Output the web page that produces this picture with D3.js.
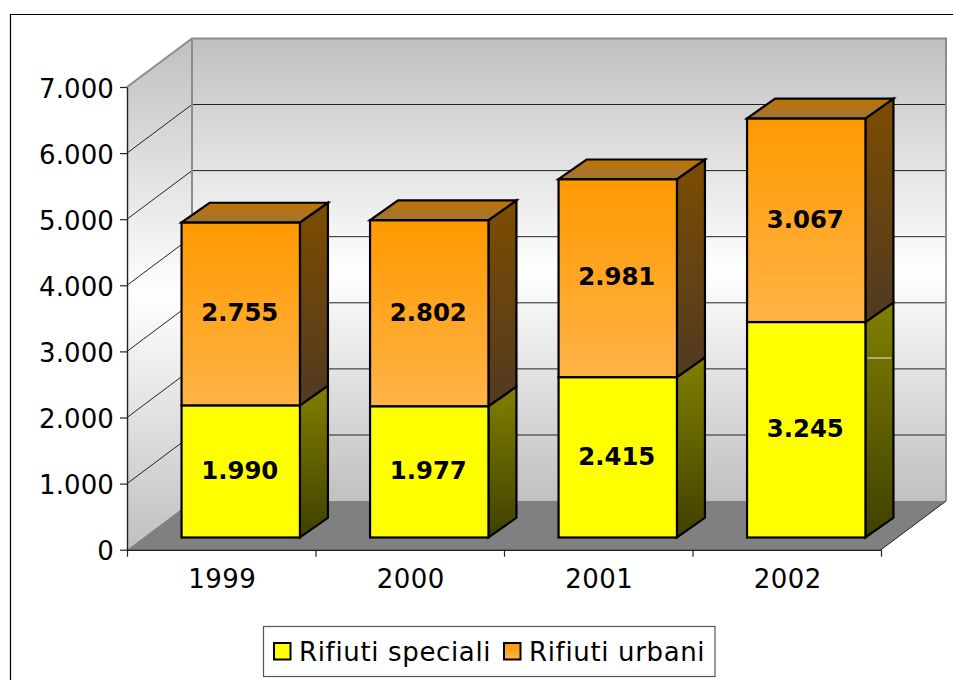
<!DOCTYPE html>
<html>
<head>
<meta charset="utf-8">
<script src="https://cdn.jsdelivr.net/npm/d3@7"></script>
<style>
  html, body { margin: 0; padding: 0; background: #fff; }
  svg { display: block; }
  text { font-family: "DejaVu Sans", Verdana, sans-serif; fill: #000; }
</style>
</head>
<body>
<div id="chart"></div>
<script>
var years = ["1999", "2000", "2001", "2002"];
var speciali = [1990, 1977, 2415, 3245];
var urbani = [2755, 2802, 2981, 3067];
var seriesNames = ["Rifiuti speciali", "Rifiuti urbani"];
var yTicks = [0, 1000, 2000, 3000, 4000, 5000, 6000, 7000];

var width = 953, height = 680;
var left = 127, right = 881, bottom = 549.7, top_ = 87;
var wallDx = 65, wallDy = 48.6;    // depth of the box
var barDx = 19.5, barDy = 12.2;    // bars sit a little way in from the front
var sideDx = 28, sideDy = 19.7;    // depth of the bars themselves

var table = years.map(function(y, i) {
    return { year: y, "Rifiuti speciali": speciali[i], "Rifiuti urbani": urbani[i] };
});
var stacked = d3.stack().keys(seriesNames)(table);

var x = d3.scaleBand().domain(years).range([left, right]).paddingInner(0.372).paddingOuter(0.186);
var y = d3.scaleLinear().domain([0, 7000]).range([bottom, top_]);
// bars are nearer than the axis plane, so they scale a touch larger
var yBar = d3.scaleLinear().domain([0, 7000]).range([bottom, top_ - 2.1]);
var edges = d3.scalePoint().domain(d3.range(years.length + 1)).range([left, right]);
var it = d3.formatLocale({ decimal: ",", thousands: ".", grouping: [3], currency: ["", ""] }).format(",d");

var svg = d3.select("#chart").append("svg").attr("width", width).attr("height", height);
var defs = svg.append("defs");

function gradient(id, stops) {
    var g = defs.append("linearGradient").attr("id", id).attr("x1", 0).attr("y1", 0).attr("x2", 0).attr("y2", 1);
    stops.forEach(function(s) {
        g.append("stop").attr("offset", s[0]).attr("stop-color", s[1]);
    });
}
gradient("wall", [[0, "#c0c0c0"], [0.5, "#ffffff"], [1, "#c0c0c0"]]);
gradient("orangeFront", [[0, "#ff9900"], [1, "#ffb347"]]);
gradient("orangeSide", [[0, "#7d4c00"], [1, "#503a22"]]);
gradient("orangeTop", [[0, "#bf7300"], [1, "#a0743a"]]);
gradient("yellowSide", [[0, "#808000"], [1, "#404000"]]);

var frontFill = { "Rifiuti speciali": "#ffff00", "Rifiuti urbani": "url(#orangeFront)" };
var sideFill = { "Rifiuti speciali": "url(#yellowSide)", "Rifiuti urbani": "url(#orangeSide)" };

function poly(pts) { return pts.map(function(p) { return p.join(","); }).join(" "); }

// outer frame, only top and left show in the crop
svg.append("path")
    .attr("d", d3.line()([[10.5, height], [10.5, 14.5], [width, 14.5]]))
    .attr("fill", "none").attr("stroke", "#000").attr("stroke-width", 1.2);

// walls and floor
svg.append("polygon")
    .attr("points", poly([[left + wallDx, top_ - wallDy], [right + wallDx, top_ - wallDy], [right + wallDx, bottom - wallDy], [left + wallDx, bottom - wallDy]]))
    .attr("fill", "url(#wall)");
svg.append("polygon")
    .attr("points", poly([[left, top_], [left + wallDx, top_ - wallDy], [left + wallDx, bottom - wallDy], [left, bottom]]))
    .attr("fill", "url(#wall)");

// grid lines on both walls
var gridTicks = yTicks.slice(1, -1);
svg.append("g").selectAll("path").data(gridTicks).enter().append("path")
    .attr("d", function(d) {
        return d3.line()([[left, y(d)], [left + wallDx, y(d) - wallDy], [right + wallDx, y(d) - wallDy]]);
    })
    .attr("fill", "none").attr("stroke", "#222").attr("stroke-width", 1);

svg.append("polygon")
    .attr("points", poly([[left, bottom], [left + wallDx, bottom - wallDy], [right + wallDx, bottom - wallDy], [right, bottom]]))
    .attr("fill", "#808080");
svg.append("path")
    .attr("d", d3.line()([[left, top_], [left + wallDx, top_ - wallDy], [right + wallDx, top_ - wallDy], [right + wallDx, bottom - wallDy]]))
    .attr("fill", "none").attr("stroke", "#8c8c8c").attr("stroke-width", 2);
svg.append("path")
    .attr("d", d3.line()([[left + wallDx, top_ - wallDy], [left + wallDx, bottom - wallDy]]))
    .attr("fill", "none").attr("stroke", "#8c8c8c").attr("stroke-width", 2);
svg.append("path")
    .attr("d", d3.line()([[right, bottom], [right + wallDx, bottom - wallDy]]))
    .attr("fill", "none").attr("stroke", "#222").attr("stroke-width", 1);

// axes
var yAxis = d3.axisLeft(y).tickValues(yTicks).tickFormat(it).tickSize(7).tickPadding(6).tickSizeOuter(0);
var gy = svg.append("g").attr("transform", "translate(" + left + ",0)").call(yAxis);
gy.selectAll("text").attr("dy", "0.39em").style("font-size", "26px").style("letter-spacing", "0.1px");

var xAxis = d3.axisBottom(x).tickSize(0).tickPadding(19.5);
var gx = svg.append("g").attr("transform", "translate(1," + bottom + ")").call(xAxis);
gx.select(".domain").remove();
gx.selectAll("text").style("font-size", "26px").style("letter-spacing", "0.4px");

var edgeAxis = d3.axisBottom(edges).tickSize(7).tickSizeOuter(0).tickFormat("");
svg.append("g").attr("transform", "translate(0," + bottom + ")").call(edgeAxis);
svg.selectAll(".domain").attr("stroke", "#222").attr("stroke-width", 1.4);
svg.selectAll(".tick line").attr("stroke", "#222").attr("stroke-width", 1.2);

// bars, one group per series
var groups = svg.append("g").attr("stroke", "#000").attr("stroke-width", 2.2).attr("stroke-linejoin", "miter")
    .selectAll("g").data(stacked).enter().append("g");

function fx(d) { return x(d.data.year) + barDx; }
function fy(v) { return yBar(v) - barDy; }

groups.selectAll(".side").data(function(s) { return s; }).enter().append("polygon")
    .attr("class", "side")
    .attr("fill", function(d, i, n) { return sideFill[d3.select(n[i].parentNode).datum().key]; })
    .attr("points", function(d) {
        var r = fx(d) + x.bandwidth();
        return poly([[r, fy(d[1])], [r + sideDx, fy(d[1]) - sideDy], [r + sideDx, fy(d[0]) - sideDy], [r, fy(d[0])]]);
    });

groups.selectAll(".front").data(function(s) { return s; }).enter().append("rect")
    .attr("class", "front")
    .attr("x", fx)
    .attr("y", function(d) { return fy(d[1]); })
    .attr("width", x.bandwidth())
    .attr("height", function(d) { return fy(d[0]) - fy(d[1]); })
    .attr("fill", function(d, i, n) { return frontFill[d3.select(n[i].parentNode).datum().key]; });

// lid on the top series only
groups.filter(function(s) { return s.key === "Rifiuti urbani"; })
    .selectAll(".lid").data(function(s) { return s; }).enter().append("polygon")
    .attr("class", "lid")
    .attr("fill", "url(#orangeTop)")
    .attr("points", function(d) {
        var l = fx(d), r = l + x.bandwidth(), t = fy(d[1]);
        return poly([[l, t], [l + sideDx, t - sideDy], [r + sideDx, t - sideDy], [r, t]]);
    });

// value labels
var labels = svg.append("g").attr("text-anchor", "middle");
stacked.forEach(function(s) {
    labels.selectAll(".v" + s.index).data(s).enter().append("text")
        .attr("x", function(d) { return fx(d) + x.bandwidth() / 2 - 1; })
        .attr("y", function(d) { return (fy(d[0]) + fy(d[1])) / 2; })
        .attr("dy", "0.3em")
        .style("font-size", "24.4px").style("font-weight", "bold")
        .text(function(d) { return it(d[1] - d[0]); });
});

// thin white seam on the last bar's side face, as in the picture
var seam = stacked[0][3];
svg.append("line")
    .attr("x1", fx(seam) + x.bandwidth() + 2).attr("x2", fx(seam) + x.bandwidth() + sideDx - 2)
    .attr("y1", y(2900)).attr("y2", y(2900))
    .attr("stroke", "#e8e8e8").attr("stroke-width", 1);

// legend
var legend = svg.append("g");
legend.append("rect").attr("x", 263.5).attr("y", 626.5).attr("width", 451.5).attr("height", 50)
    .attr("fill", "#fff").attr("stroke", "#555").attr("stroke-width", 1.2);
var legendX = d3.scalePoint().domain(seriesNames).range([274, 504]);
var swatchFill = { "Rifiuti speciali": "#ffff00", "Rifiuti urbani": "url(#orangeFront)" };
var item = legend.selectAll(".item").data(seriesNames).enter().append("g")
    .attr("transform", function(d) { return "translate(" + legendX(d) + ",643)"; });
item.append("rect").attr("width", 16.5).attr("height", 16.5)
    .attr("fill", function(d) { return swatchFill[d]; })
    .attr("stroke", "#000").attr("stroke-width", 2);
item.append("text").attr("x", 25).attr("y", 17.5)
    .style("font-size", "26px").style("letter-spacing", "0.65px")
    .text(function(d) { return d; });
</script>
</body>
</html>
